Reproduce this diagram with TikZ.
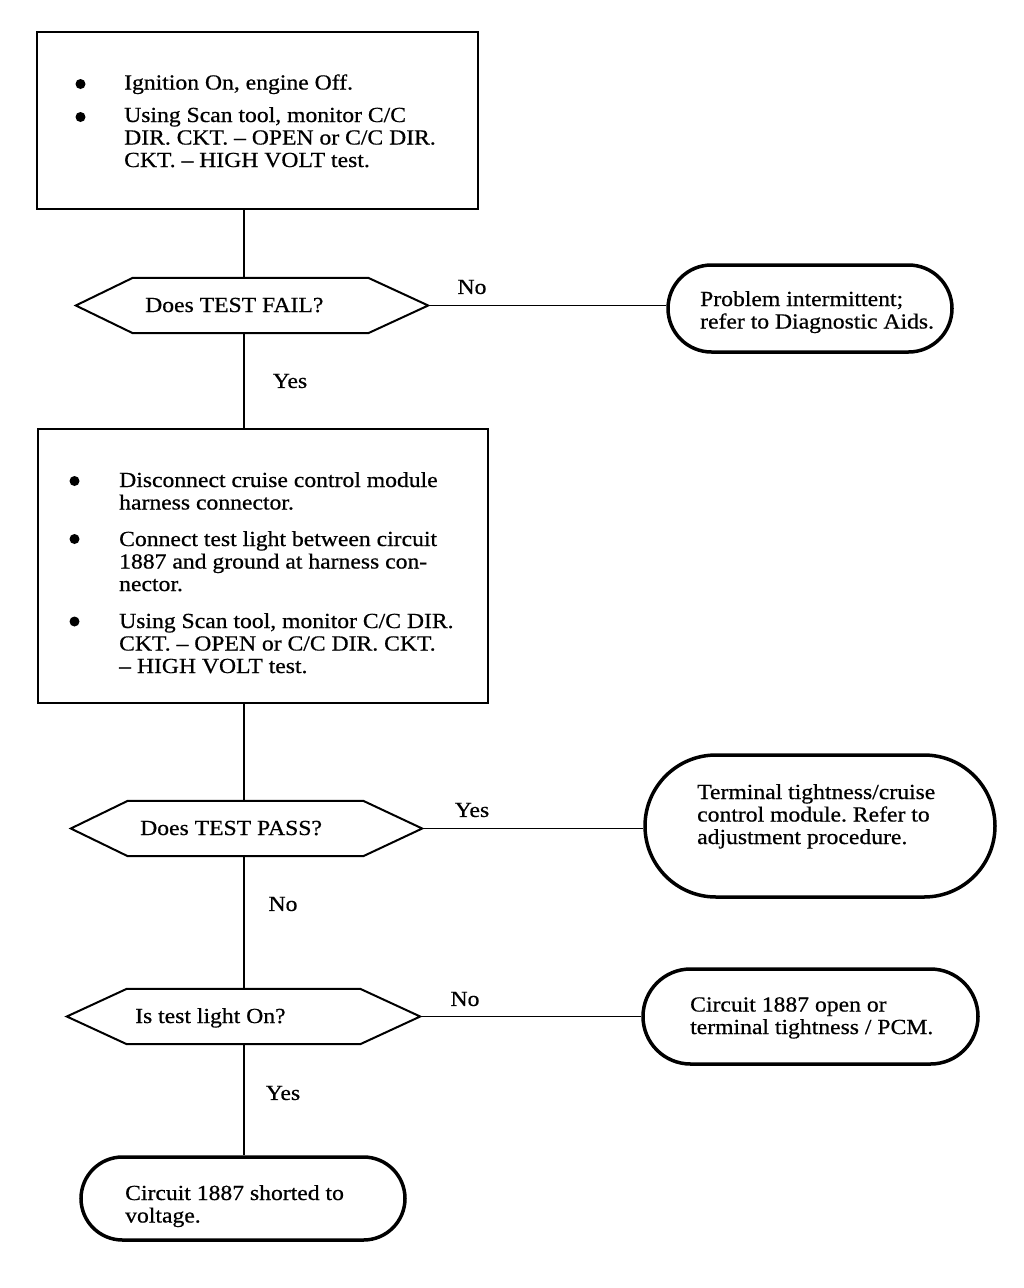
\documentclass[tikz,border=0pt]{standalone}
\usepackage{fontspec}
\setmainfont{Liberation Serif}[FakeStretch=1.1,FakeBold=0.6]
\usetikzlibrary{shapes.misc,calc}
\frenchspacing
\begin{document}
\begin{tikzpicture}[x=1pt,y=-1pt,
  every node/.style={font=\fontsize{21.5}{22.5}\selectfont},
  procbox/.style={draw, line width=2pt, inner sep=0pt},
  hexnode/.style={inner sep=0pt, minimum height=55pt},
  termbox/.style={draw, rounded rectangle, line width=3.5pt, inner sep=0pt},
  bul/.style={circle, fill, inner sep=0pt, minimum size=10pt},
  txt/.style={anchor=base west, inner sep=0pt, align=left},
  lbl/.style={inner sep=0pt},
  conn/.style={line width=1.8pt},
  hexline/.style={line width=2pt, line join=miter}]
\useasboundingbox (0,0) rectangle (1024,1288);
\coordinate (spine) at (244,0);

% box 1
\node[procbox, minimum width=441pt, minimum height=177pt] (b1) at (257.5,120.5) {};
\node[bul] (b1u1) at (80.5,84) {};
\node[txt] (b1t1) at (124,89.5) {Ignition On, engine Off.};
\node[bul] (b1u2) at (80.5,117) {};
\node[txt] (b1t2) at (124,167) {Using Scan tool, monitor C/C\\DIR. CKT. -- OPEN or C/C DIR.\\CKT. -- HIGH VOLT test.};

% decision 1
\node[hexnode, minimum width=352pt] (d1) at (252,305.5) {};
\draw[hexline] (d1.west) -- ([xshift=57pt]d1.north west) -- ([xshift=-60pt]d1.north east) -- (d1.east) -- ([xshift=-60pt]d1.south east) -- ([xshift=57pt]d1.south west) -- cycle;
\node[txt] (d1t) at (145,312) {Does TEST FAIL?};

% terminal 1
\node[termbox, minimum width=284pt, minimum height=87pt] (t1) at (810,308.5) {};
\node[txt] (t1t) at (700,328.5) {Problem intermittent;\\refer to Diagnostic Aids.};

% box 2
\node[procbox, minimum width=450pt, minimum height=274pt] (b2) at (263,566) {};
\node[bul] (b2u1) at (74.5,481) {};
\node[txt] (b2t1) at (119,509.5) {Disconnect cruise control module\\harness connector.};
\node[bul] (b2u2) at (74.5,539) {};
\node[txt] (b2t2) at (119,591) {Connect test light between circuit\\1887 and ground at harness con-\\nector.};
\node[bul] (b2u3) at (74.5,621.5) {};
\node[txt] (b2t3) at (119,673) {Using Scan tool, monitor C/C DIR.\\CKT. -- OPEN or C/C DIR. CKT.\\-- HIGH VOLT test.};

% decision 2
\node[hexnode, minimum width=351pt] (d2) at (246.5,828.5) {};
\draw[hexline] (d2.west) -- ([xshift=57pt]d2.north west) -- ([xshift=-59pt]d2.north east) -- (d2.east) -- ([xshift=-59pt]d2.south east) -- ([xshift=57pt]d2.south west) -- cycle;
\node[txt] (d2t) at (140,835) {Does TEST PASS?};

% terminal 2
\node[termbox, minimum width=350pt, minimum height=142pt] (t2) at (820,826) {};
\node[txt] (t2t) at (697,844) {Terminal tightness/cruise\\control module. Refer to\\adjustment procedure.};

% decision 3
\node[hexnode, minimum width=353pt] (d3) at (243.5,1016.5) {};
\draw[hexline] (d3.west) -- ([xshift=60pt]d3.north west) -- ([xshift=-60pt]d3.north east) -- (d3.east) -- ([xshift=-60pt]d3.south east) -- ([xshift=60pt]d3.south west) -- cycle;
\node[txt] (d3t) at (135,1023) {Is test light On?};

% terminal 3
\node[termbox, minimum width=335pt, minimum height=95pt] (t3) at (810.5,1016.5) {};
\node[txt] (t3t) at (690,1034) {Circuit 1887 open or\\terminal tightness / PCM.};

% terminal 4
\node[termbox, minimum width=324pt, minimum height=83pt] (t4) at (243,1198.5) {};
\node[txt] (t4t) at (125,1222.5) {Circuit 1887 shorted to\\voltage.};

% connectors
\draw[conn] (b1.south -| spine) -- (d1.north -| spine);
\draw[conn] (d1.east) -- (d1.east -| t1.west);
\draw[conn] (d1.south -| spine) -- (b2.north -| spine);
\draw[conn] (b2.south -| spine) -- (d2.north -| spine);
\draw[conn] (d2.east) -- (d2.east -| t2.west);
\draw[conn] (d2.south -| spine) -- (d3.north -| spine);
\draw[conn] (d3.east) -- (d3.east -| t3.west);
\draw[conn] (d3.south -| spine) -- (t4.north -| spine);

% labels
\node[lbl] (l1) at (472,287) {No};
\node[lbl] (l2) at (290,381) {Yes};
\node[lbl] (l3) at (472,810) {Yes};
\node[lbl] (l4) at (283,904) {No};
\node[lbl] (l5) at (465,999) {No};
\node[lbl] (l6) at (283,1093) {Yes};
\end{tikzpicture}
\end{document}
